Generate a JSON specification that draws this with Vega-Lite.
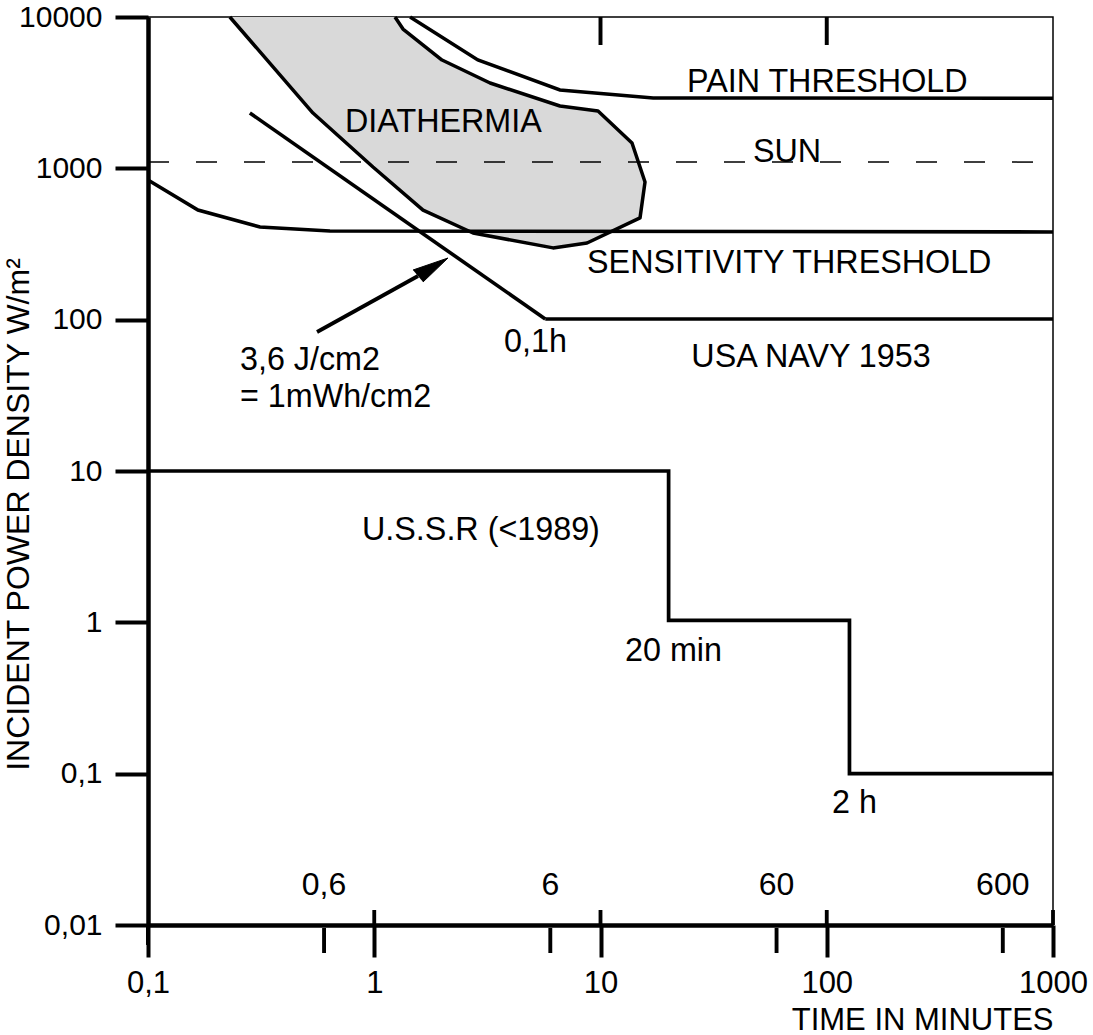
{
  "$schema": "https://vega.github.io/schema/vega-lite/v6.json",
  "width": 905,
  "height": 908,
  "autosize": {"type": "none"},
  "padding": {"left": 148, "top": 17, "right": 40, "bottom": 110},
  "background": "white",
  "config": {
    "view": {"stroke": "black", "strokeWidth": 1.5},
    "font": "Liberation Sans",
    "text": {"font": "Liberation Sans", "fontSize": 32, "color": "black"}
  },
  "datasets": {
    "diathermia": [
      {"i": 1, "t": 0.230, "p": 10000},
      {"i": 2, "t": 0.536, "p": 2320},
      {"i": 3, "t": 0.987, "p": 1020},
      {"i": 4, "t": 1.643, "p": 530},
      {"i": 5, "t": 2.733, "p": 374},
      {"i": 6, "t": 6.17, "p": 298},
      {"i": 7, "t": 8.72, "p": 321},
      {"i": 8, "t": 14.95, "p": 470},
      {"i": 9, "t": 15.73, "p": 812},
      {"i": 10, "t": 13.78, "p": 1470},
      {"i": 11, "t": 9.75, "p": 2392},
      {"i": 12, "t": 6.62, "p": 2582},
      {"i": 13, "t": 3.25, "p": 3664},
      {"i": 14, "t": 1.993, "p": 5196},
      {"i": 15, "t": 1.34, "p": 8330},
      {"i": 16, "t": 1.235, "p": 10000}
    ],
    "curves": [
      {"series": "pain", "i": 1, "t": 1.44, "p": 10000},
      {"series": "pain", "i": 2, "t": 2.87, "p": 5200},
      {"series": "pain", "i": 3, "t": 6.62, "p": 3296},
      {"series": "pain", "i": 4, "t": 17.1, "p": 2917},
      {"series": "pain", "i": 5, "t": 1000, "p": 2900},
      {"series": "sensitivity", "i": 1, "t": 0.1, "p": 837},
      {"series": "sensitivity", "i": 2, "t": 0.1663, "p": 530},
      {"series": "sensitivity", "i": 3, "t": 0.3126, "p": 410},
      {"series": "sensitivity", "i": 4, "t": 0.637, "p": 385},
      {"series": "sensitivity", "i": 5, "t": 1000, "p": 380},
      {"series": "navy_slant", "i": 1, "t": 0.282, "p": 2320},
      {"series": "navy_slant", "i": 2, "t": 5.7, "p": 101},
      {"series": "navy_flat", "i": 1, "t": 5.7, "p": 101},
      {"series": "navy_flat", "i": 2, "t": 1000, "p": 101},
      {"series": "ussr", "i": 1, "t": 0.1, "p": 10},
      {"series": "ussr", "i": 2, "t": 20, "p": 10},
      {"series": "ussr", "i": 3, "t": 20, "p": 1.03},
      {"series": "ussr", "i": 4, "t": 126, "p": 1.03},
      {"series": "ussr", "i": 5, "t": 126, "p": 0.1},
      {"series": "ussr", "i": 6, "t": 1000, "p": 0.1},
      {"series": "arrow", "i": 1, "t": 0.5585, "p": 82.9},
      {"series": "arrow", "i": 2, "t": 1.561, "p": 194.3}
    ],
    "sun": [
      {"t": 0.1, "p": 1100},
      {"t": 1000, "p": 1100}
    ],
    "arrowhead": [
      {"i": 1, "t": 1.483, "p": 212.9},
      {"i": 2, "t": 2.118, "p": 255.5},
      {"i": 3, "t": 1.643, "p": 177.4}
    ],
    "ticks": [
      {"kind": "major", "t": 1, "p": 0.01, "p2": 0.01256},
      {"kind": "major", "t": 10, "p": 0.01, "p2": 0.01256},
      {"kind": "major", "t": 100, "p": 0.01, "p2": 0.01256},
      {"kind": "major", "t": 1000, "p": 0.01, "p2": 0.01256},
      {"kind": "minor", "t": 0.6, "p": 0.00955, "p2": 0.00653},
      {"kind": "minor", "t": 6, "p": 0.00955, "p2": 0.00653},
      {"kind": "minor", "t": 60, "p": 0.00955, "p2": 0.00653},
      {"kind": "minor", "t": 600, "p": 0.00955, "p2": 0.00653},
      {"kind": "top", "t": 10, "p": 10000, "p2": 6531},
      {"kind": "top", "t": 100, "p": 10000, "p2": 6531},
      {"kind": "axisext", "t": 0.1, "p": 0.01, "p2": 0.00738}
    ],
    "toplabels": [
      {"t": 0.6, "label": "0,6"},
      {"t": 6, "label": "6"},
      {"t": 60, "label": "60"},
      {"t": 600, "label": "600"}
    ],
    "notes": [
      {"t": 24.12, "p": 3195, "label": "PAIN THRESHOLD"},
      {"t": 47.2, "p": 1101, "label": "SUN"},
      {"t": 8.72, "p": 203.4, "label": "SENSITIVITY THRESHOLD"},
      {"t": 0.7425, "p": 1738, "label": "DIATHERMIA"},
      {"t": 0.255, "p": 46.5, "label": "3,6 J/cm2"},
      {"t": 0.255, "p": 26.5, "label": "= 1mWh/cm2"},
      {"t": 3.745, "p": 61.1, "label": "0,1h"},
      {"t": 25.2, "p": 48.7, "label": "USA NAVY 1953"},
      {"t": 0.883, "p": 3.5, "label": "U.S.S.R (<1989)"},
      {"t": 12.83, "p": 0.555, "label": "20 min"},
      {"t": 105.5, "p": 0.055, "label": "2 h"}
    ]
  },
  "layer": [
    {
      "data": {"name": "diathermia"},
      "mark": {"type": "line", "fill": "#d9d9d9", "stroke": "black", "strokeWidth": 3.5, "strokeJoin": "round"},
      "encoding": {
        "x": {
          "field": "t", "type": "quantitative",
          "scale": {"type": "log", "domain": [0.1, 1000], "nice": false},
          "axis": {
            "values": [0.1, 1, 10, 100, 1000],
            "labelExpr": "replace(format(datum.value, ''), '.', ',')",
            "grid": false,
            "domainWidth": 4.5, "domainColor": "black",
            "tickColor": "black", "tickWidth": 4, "tickSize": 32,
            "labelFont": "Liberation Sans", "labelFontSize": 31, "labelColor": "black",
            "labelBaseline": "alphabetic", "labelPadding": 35,
            "labelOverlap": false, "labelBound": false, "labelFlush": false,
            "title": "TIME IN MINUTES",
            "titleFont": "Liberation Sans", "titleFontSize": 31, "titleFontWeight": "normal", "titleColor": "black",
            "titleAnchor": "end", "titleAlign": "right", "titleBaseline": "alphabetic",
            "titleX": 905, "titleY": 104
          }
        },
        "y": {
          "field": "p", "type": "quantitative",
          "scale": {"type": "log", "domain": [0.01, 10000], "nice": false},
          "axis": {
            "values": [0.01, 0.1, 1, 10, 100, 1000, 10000],
            "labelExpr": "replace(format(datum.value, ''), '.', ',')",
            "grid": false,
            "domainWidth": 4.5, "domainColor": "black",
            "tickColor": "black", "tickWidth": 4, "tickSize": 33,
            "labelFont": "Liberation Sans", "labelFontSize": 30, "labelColor": "black",
            "labelBaseline": "middle", "labelPadding": 13,
            "labelOverlap": false, "labelBound": false, "labelFlush": false,
            "title": "INCIDENT POWER DENSITY  W/m²",
            "titleFont": "Liberation Sans", "titleFontSize": 32, "titleFontWeight": "normal", "titleColor": "black",
            "titleAngle": 270, "titleAlign": "center", "titleBaseline": "alphabetic",
            "titleX": -120, "titleY": 497
          }
        },
        "order": {"field": "i", "type": "quantitative"}
      }
    },
    {
      "data": {"name": "sun"},
      "mark": {"type": "line", "stroke": "black", "strokeWidth": 1.5, "strokeDash": [21, 27]},
      "encoding": {
        "x": {"field": "t", "type": "quantitative"},
        "y": {"field": "p", "type": "quantitative"}
      }
    },
    {
      "data": {"name": "curves"},
      "mark": {"type": "line", "stroke": "black", "strokeJoin": "miter", "strokeCap": "butt"},
      "encoding": {
        "x": {"field": "t", "type": "quantitative"},
        "y": {"field": "p", "type": "quantitative"},
        "detail": {"field": "series", "type": "nominal"},
        "order": {"field": "i", "type": "quantitative"},
        "strokeWidth": {
          "field": "series", "type": "nominal",
          "scale": {"domain": ["pain", "sensitivity", "navy_slant", "navy_flat", "ussr", "arrow"], "range": [3.5, 4, 2, 4, 4, 1.8]},
          "legend": null
        }
      }
    },
    {
      "data": {"name": "arrowhead"},
      "mark": {"type": "line", "fill": "black", "stroke": "black", "strokeWidth": 1},
      "encoding": {
        "x": {"field": "t", "type": "quantitative"},
        "y": {"field": "p", "type": "quantitative"},
        "order": {"field": "i", "type": "quantitative"}
      }
    },
    {
      "data": {"name": "ticks"},
      "mark": {"type": "rule", "stroke": "black", "clip": false},
      "encoding": {
        "x": {"field": "t", "type": "quantitative"},
        "y": {"field": "p", "type": "quantitative"},
        "y2": {"field": "p2"},
        "strokeWidth": {
          "field": "kind", "type": "nominal",
          "scale": {"domain": ["major", "minor", "top", "axisext"], "range": [4, 1.5, 1.5, 4.5]},
          "legend": null
        }
      }
    },
    {
      "data": {"name": "toplabels"},
      "mark": {"type": "text", "align": "center", "baseline": "alphabetic", "fontSize": 32, "font": "Liberation Sans", "color": "black"},
      "encoding": {
        "x": {"field": "t", "type": "quantitative"},
        "y": {"datum": 0.01578, "type": "quantitative"},
        "text": {"field": "label"}
      }
    },
    {
      "data": {"name": "notes"},
      "mark": {"type": "text", "align": "left", "baseline": "alphabetic", "fontSize": 32.3, "font": "Liberation Sans", "color": "black"},
      "encoding": {
        "x": {"field": "t", "type": "quantitative"},
        "y": {"field": "p", "type": "quantitative"},
        "text": {"field": "label"}
      }
    }
  ]
}
